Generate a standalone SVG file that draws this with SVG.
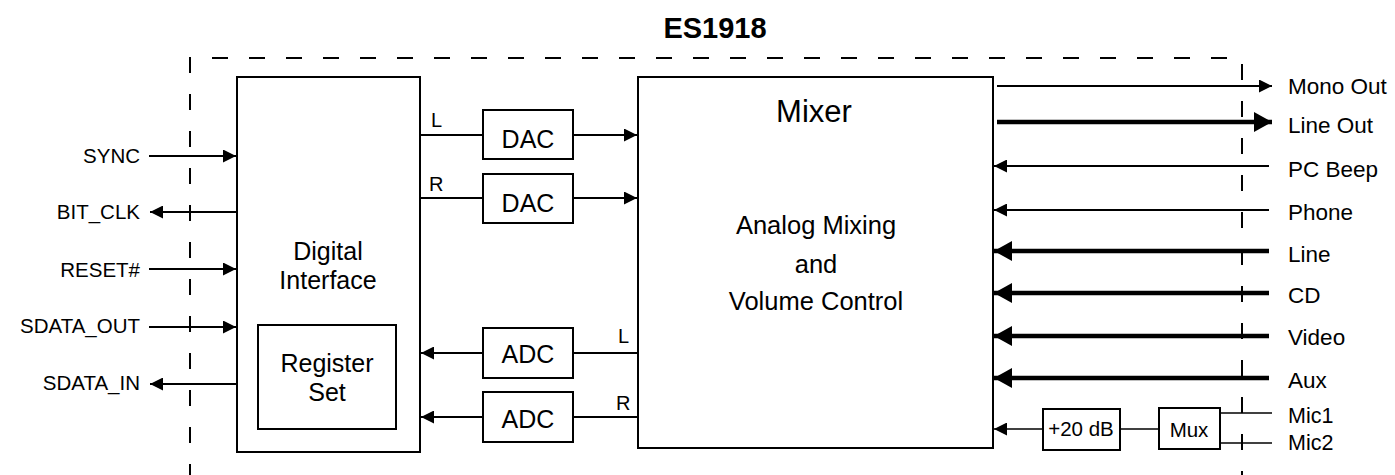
<svg xmlns="http://www.w3.org/2000/svg" width="1395" height="475" viewBox="0 0 1395 475">
<style>
text{font-family:"Liberation Sans",Arial,sans-serif;fill:#000}
.box{fill:#fff;stroke:#000;stroke-width:2}
.thin{stroke:#000;stroke-width:2;fill:none}
.mic{stroke:#000;stroke-width:1.5;fill:none}
.thick{stroke:#000;stroke-width:4.5;fill:none}
.lbl{font-size:20.5px}
.rl{font-size:22.5px}
.blk{font-size:25px;text-anchor:middle}
.sm{font-size:20px}
</style>
<defs>
<marker id="a" markerUnits="userSpaceOnUse" markerWidth="13" markerHeight="13" refX="13" refY="6.5" orient="auto"><path d="M0,0L13,6.5L0,13z" fill="#000"/></marker>
<marker id="b" markerUnits="userSpaceOnUse" markerWidth="18" markerHeight="20" refX="18" refY="10" orient="auto"><path d="M0,0L18,10L0,20z" fill="#000"/></marker>
</defs>
<rect width="1395" height="475" fill="#fff"/>
<text x="715" y="38" font-size="29" font-weight="bold" text-anchor="middle">ES1918</text>
<path d="M190,480V58H1242V480" fill="none" stroke="#000" stroke-width="2" stroke-dasharray="16,21"/>

<g id="connectors">
<line class="thin" x1="149" y1="156" x2="236" y2="156" marker-end="url(#a)"/>
<line class="thin" x1="237" y1="212" x2="150" y2="212" marker-end="url(#a)"/>
<line class="thin" x1="149" y1="269" x2="236" y2="269" marker-end="url(#a)"/>
<line class="thin" x1="149" y1="327" x2="236" y2="327" marker-end="url(#a)"/>
<line class="thin" x1="237" y1="384" x2="150" y2="384" marker-end="url(#a)"/>
<line class="thin" x1="420" y1="135" x2="483" y2="135"/>
<line class="thin" x1="573" y1="135" x2="637" y2="135" marker-end="url(#a)"/>
<line class="thin" x1="420" y1="198" x2="483" y2="198"/>
<line class="thin" x1="573" y1="198" x2="637" y2="198" marker-end="url(#a)"/>
<line class="thin" x1="638" y1="353" x2="573" y2="353"/>
<line class="thin" x1="483" y1="353" x2="421" y2="353" marker-end="url(#a)"/>
<line class="thin" x1="638" y1="417" x2="573" y2="417"/>
<line class="thin" x1="483" y1="417" x2="421" y2="417" marker-end="url(#a)"/>
<line class="thin" x1="997" y1="86" x2="1272" y2="86" marker-end="url(#a)"/>
<line class="thick" x1="997" y1="122" x2="1272" y2="122" marker-end="url(#b)"/>
<line class="thin" x1="1269" y1="166" x2="994" y2="166" marker-end="url(#a)"/>
<line class="thin" x1="1269" y1="210" x2="994" y2="210" marker-end="url(#a)"/>
<line class="thick" x1="1269" y1="251" x2="994" y2="251" marker-end="url(#b)"/>
<line class="thick" x1="1269" y1="293" x2="994" y2="293" marker-end="url(#b)"/>
<line class="thick" x1="1269" y1="336" x2="994" y2="336" marker-end="url(#b)"/>
<line class="thick" x1="1269" y1="378" x2="994" y2="378" marker-end="url(#b)"/>
<line class="mic" x1="1043" y1="429" x2="994" y2="429" marker-end="url(#a)"/>
<line class="mic" x1="1120" y1="429" x2="1159" y2="429"/>
<line class="mic" x1="1220" y1="413" x2="1272" y2="413"/>
<line class="mic" x1="1220" y1="443" x2="1272" y2="443"/>
</g>

<g id="left-labels" class="lbl" text-anchor="end">
<text x="140" y="163">SYNC</text>
<text x="140" y="219">BIT_CLK</text>
<text x="140" y="277">RESET#</text>
<text x="140" y="333">SDATA_OUT</text>
<text x="140" y="390">SDATA_IN</text>
</g>

<g id="digital-interface">
<rect class="box" x="237" y="77" width="183" height="375"/>
<text class="blk" x="328" y="260">Digital</text>
<text class="blk" x="328" y="289">Interface</text>
</g>
<g id="register-set">
<rect class="box" x="258" y="325" width="138" height="104"/>
<text class="blk" x="327" y="372">Register</text>
<text class="blk" x="327" y="401">Set</text>
</g>

<g id="dac-l"><rect class="box" x="483" y="110" width="90" height="49"/><text class="blk" x="528" y="148">DAC</text></g>
<g id="dac-r"><rect class="box" x="483" y="174" width="90" height="49"/><text class="blk" x="528" y="212">DAC</text></g>
<g id="adc-l"><rect class="box" x="483" y="328" width="90" height="50"/><text class="blk" x="528" y="363">ADC</text></g>
<g id="adc-r"><rect class="box" x="483" y="392" width="90" height="50"/><text class="blk" x="528" y="428">ADC</text></g>

<g id="channel-labels" class="sm">
<text x="431" y="127">L</text>
<text x="429" y="191">R</text>
<text x="618" y="343">L</text>
<text x="616" y="410">R</text>
</g>

<g id="mixer">
<rect class="box" x="638" y="77" width="355" height="371"/>
<text x="814" y="122" font-size="31" text-anchor="middle">Mixer</text>
<text x="816" y="234" font-size="25.5" text-anchor="middle">Analog Mixing</text>
<text x="816" y="273" font-size="25.5" text-anchor="middle">and</text>
<text x="816" y="310" font-size="25.5" text-anchor="middle">Volume Control</text>
</g>

<g id="gain"><rect class="box" x="1043" y="409" width="77" height="41"/><text x="1081" y="436" font-size="20.5" text-anchor="middle">+20 dB</text></g>
<g id="mux"><rect class="box" x="1159" y="408" width="61" height="41"/><text x="1189" y="437" font-size="20.5" text-anchor="middle">Mux</text></g>

<g id="right-labels" class="rl">
<text x="1288" y="94">Mono Out</text>
<text x="1288" y="133">Line Out</text>
<text x="1288" y="177">PC Beep</text>
<text x="1288" y="220">Phone</text>
<text x="1288" y="262">Line</text>
<text x="1288" y="303">CD</text>
<text x="1288" y="345">Video</text>
<text x="1288" y="388">Aux</text>
<text x="1288" y="423" font-size="21.5">Mic1</text>
<text x="1288" y="450" font-size="21.5">Mic2</text>
</g>
</svg>
